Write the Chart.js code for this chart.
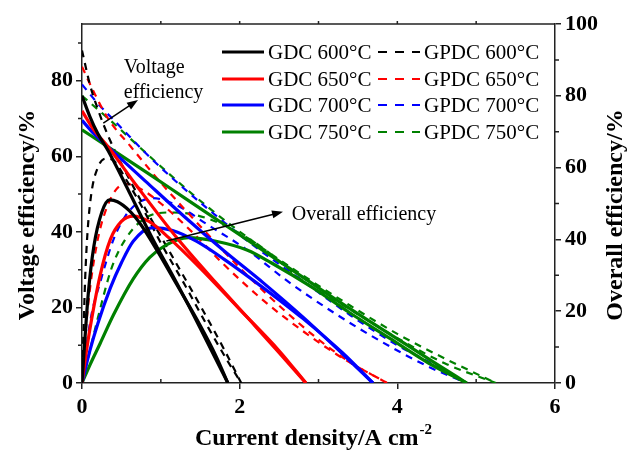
<!DOCTYPE html>
<html>
<head>
<meta charset="utf-8">
<script src="https://cdn.jsdelivr.net/npm/chart.js@4.4.0/dist/chart.umd.min.js"></script>
<style>
  html, body { margin: 0; padding: 0; background: #fff; }
  canvas { display: block; }
</style>
</head>
<body>
<canvas id="chart" width="636" height="451"></canvas>
<script>
// ------------------------------------------------------------
// Efficiency vs current density, GDC / GPDC cells at 600-750 °C
// points are [current density (A cm-2), efficiency (%)]
// ------------------------------------------------------------

// voltage efficiency (left axis)
const gdc600Volt = [[0,76],[0.1,70.5],[0.2,66],[0.33,61.5],[0.6,50.5],[0.9,38],[1.2,26.5],[1.5,14.5],[1.85,0]];
const gdc650Volt = [[0,72],[0.15,67],[0.33,62.5],[0.7,52],[1.2,38.5],[1.7,26.5],[2.2,15],[2.5,8],[2.84,0]];
const gdc700Volt = [[0,69.5],[0.15,66],[0.33,62.5],[0.8,53.5],[1.3,44],[1.8,35],[2.3,26.5],[2.8,17.5],[3.3,7.8],[3.69,0]];
const gdc750Volt = [[0,67],[0.33,62.5],[0.8,56],[1.3,49],[1.8,42],[2.3,35],[2.8,28],[3.3,21],[3.9,13],[4.5,5],[4.88,0]];
const gpdc600Volt = [[0,88],[0.1,79],[0.2,72.5],[0.35,64.5],[0.6,54],[0.9,42.5],[1.2,31.5],[1.5,20.5],[1.8,9],[2.02,0]];
const gpdc650Volt = [[0,83.7],[0.15,77],[0.33,70],[0.62,62.5],[1.0,53],[1.5,41.5],[2.0,30.5],[2.5,20.5],[3.0,11.5],[3.4,5.5],[3.87,0]];
const gpdc700Volt = [[0,79],[0.2,74],[0.5,67.5],[0.8,61],[1.13,54.5],[1.6,46],[2.2,36],[2.8,27],[3.4,18],[4.0,10],[4.5,4.5],[4.88,0]];
const gpdc750Volt = [[0,76],[0.36,69.5],[0.7,63],[1.07,56],[1.6,46.5],[2.2,37],[2.8,28.5],[3.4,20.5],[4.0,13],[4.6,6.5],[5.25,0]];

// overall efficiency (right axis)
const gdc600Eff = [[0,0],[0.03,10],[0.08,25],[0.15,38],[0.25,47.5],[0.35,51],[0.45,50.5],[0.6,48],[0.75,44],[0.95,37],[1.2,27.5],[1.5,16],[1.7,7.5],[1.85,0]];
const gdc650Eff = [[0,0],[0.05,8],[0.1,15],[0.23,30],[0.36,40],[0.5,45],[0.65,46.5],[0.85,45],[1.1,40.5],[1.5,32],[2.0,20.5],[2.5,9],[2.84,0]];
const gdc700Eff = [[0,0],[0.1,9],[0.2,16.5],[0.36,26.5],[0.5,33.5],[0.65,39.5],[0.9,43.3],[1.15,42.5],[1.45,39.5],[1.8,34.5],[2.3,26.5],[2.8,18],[3.3,8.5],[3.69,0]];
const gdc750Eff = [[0,0],[0.1,5],[0.23,11],[0.4,19],[0.65,29],[0.86,35],[1.07,38.5],[1.35,40.5],[1.7,39.5],[2.1,37],[2.4,33.5],[2.93,26.5],[3.4,19.5],[3.9,12.5],[4.4,5.5],[4.88,0]];
const gpdc600Eff = [[0,0],[0.02,15],[0.04,29],[0.07,42],[0.12,53],[0.2,60],[0.3,62.5],[0.4,62],[0.55,57],[0.75,49.5],[1.0,39],[1.3,27.5],[1.6,15.5],[1.85,6],[2.02,0]];
const gpdc650Eff = [[0,0],[0.03,10],[0.1,26],[0.2,40],[0.3,48],[0.42,53.5],[0.55,55.5],[0.75,54],[1.0,50],[1.4,42],[1.8,33],[2.3,23],[2.8,14.5],[3.3,7],[3.87,0]];
const gpdc700Eff = [[0,0],[0.05,9],[0.12,19],[0.23,28],[0.4,40],[0.55,46.5],[0.7,50],[0.9,51.5],[1.2,49.5],[1.6,44],[2.1,37],[2.6,28.5],[3.2,19.5],[3.8,11.5],[4.4,4.5],[4.88,0]];
const gpdc750Eff = [[0,0],[0.1,9],[0.2,18],[0.36,31],[0.46,36.5],[0.65,43],[0.85,46.5],[1.1,47.5],[1.4,47],[1.8,44],[2.3,37.5],[2.8,28.5],[3.4,20.5],[4.0,12.5],[4.6,5.5],[5.25,0]];

const seriesLabels = ['GDC 600°C', 'GDC 650°C', 'GDC 700°C', 'GDC 750°C',
                      'GPDC 600°C', 'GPDC 650°C', 'GPDC 700°C', 'GPDC 750°C'];
const voltSets = [gdc600Volt, gdc650Volt, gdc700Volt, gdc750Volt, gpdc600Volt, gpdc650Volt, gpdc700Volt, gpdc750Volt];
const effSets = [gdc600Eff, gdc650Eff, gdc700Eff, gdc750Eff, gpdc600Eff, gpdc650Eff, gpdc700Eff, gpdc750Eff];

// axis ticks
const xTicks = [0, 2, 4, 6];
const xMinorTicks = [1, 3, 5];
const leftTicks = [0, 20, 40, 60, 80];
const leftMinorTicks = [10, 30, 50, 70, 90];
const rightTicks = [0, 20, 40, 60, 80, 100];
const rightMinorTicks = [10, 30, 50, 70, 90];

// annotation anchors in data units (x, left-axis y)
const voltageNoteAt = [0.53, 82.0, 75.4];
const voltageArrow = [0.27, 68.8, 0.71, 74.9];
const overallNoteAt = [2.66, 43.1];
const overallArrow = [1.07, 37.6, 2.55, 45.3];

const colors = ['#000000', '#ff0000', '#0000ff', '#008000'];
const SERIF = "'Liberation Serif', 'Times New Roman', serif";

function toXY(pts) { return pts.map(p => ({ x: p[0], y: p[1] })); }

const datasets = [];
// solid GDC first so they sit on top
[0, 1, 2, 3, 4, 5, 6, 7].forEach(i => {
  const dashed = i >= 4;
  const color = colors[i % 4];
  const common = {
    borderColor: color,
    backgroundColor: color,
    borderWidth: dashed ? 2.2 : 3.2,
    borderDash: dashed ? [7, 6] : [],
    pointRadius: 0,
    cubicInterpolationMode: 'monotone',
    fill: false,
  };
  datasets.push(Object.assign({ label: seriesLabels[i], data: toXY(voltSets[i]), yAxisID: 'y' }, common));
  datasets.push(Object.assign({ label: seriesLabels[i] + ' overall', data: toXY(effSets[i]), yAxisID: 'y2' }, common));
});

function fixedTicks(values) {
  return scale => { scale.ticks = values.map(v => ({ value: v })); };
}

function drawArrow(ctx, x1, y1, x2, y2) {
  const ang = Math.atan2(y2 - y1, x2 - x1);
  const len = 11, half = 4;
  ctx.beginPath();
  ctx.moveTo(x1, y1);
  ctx.lineTo(x2 - Math.cos(ang) * len * 0.8, y2 - Math.sin(ang) * len * 0.8);
  ctx.stroke();
  ctx.beginPath();
  ctx.moveTo(x2, y2);
  ctx.lineTo(x2 - Math.cos(ang) * len - Math.sin(ang) * half, y2 - Math.sin(ang) * len + Math.cos(ang) * half);
  ctx.lineTo(x2 - Math.cos(ang) * len + Math.sin(ang) * half, y2 - Math.sin(ang) * len - Math.cos(ang) * half);
  ctx.closePath();
  ctx.fill();
}

// frame, minor ticks, legend, notes and axis titles
const decor = {
  id: 'decor',
  afterDraw(chart) {
    const { ctx, chartArea: a, scales } = chart;
    const sx = scales.x, sy = scales.y, sy2 = scales.y2;
    ctx.save();
    ctx.strokeStyle = '#222';
    ctx.fillStyle = '#000';
    ctx.lineWidth = 1.5;

    // top frame
    ctx.beginPath();
    ctx.moveTo(a.left, a.top);
    ctx.lineTo(a.right, a.top);
    ctx.stroke();

    ctx.beginPath();
    // minor x ticks point inward, top ticks small
    xMinorTicks.forEach(v => {
      const px = sx.getPixelForValue(v);
      ctx.moveTo(px, a.bottom); ctx.lineTo(px, a.bottom - 4);
    });
    [1, 2, 3, 4, 5].forEach(v => {
      const px = sx.getPixelForValue(v);
      ctx.moveTo(px, a.top); ctx.lineTo(px, a.top - 3);
    });
    leftMinorTicks.forEach(v => {
      const py = sy.getPixelForValue(v);
      ctx.moveTo(a.left, py); ctx.lineTo(a.left - 4, py);
    });
    rightMinorTicks.forEach(v => {
      const py = sy2.getPixelForValue(v);
      ctx.moveTo(a.right, py); ctx.lineTo(a.right + 4, py);
    });
    ctx.stroke();

    // legend: two columns, solid GDC | dashed GPDC
    const rowY = [52, 79, 105, 132];
    ctx.font = `21px ${SERIF}`;
    ctx.textBaseline = 'middle';
    ctx.textAlign = 'left';
    for (let r = 0; r < 4; r++) {
      const y = rowY[r];
      [[222, 264, 268, r], [378, 420, 424, r + 4]].forEach(([x1, x2, tx, idx]) => {
        const ds = chart.data.datasets[idx * 2];
        ctx.save();
        ctx.strokeStyle = ds.borderColor;
        ctx.lineWidth = ds.borderWidth;
        ctx.setLineDash(idx >= 4 ? [9, 8] : []);
        ctx.beginPath();
        ctx.moveTo(x1, y); ctx.lineTo(x2, y);
        ctx.stroke();
        ctx.restore();
        ctx.fillText(ds.label, tx, y + 1);
      });
    }

    // notes
    ctx.font = `20px ${SERIF}`;
    ctx.textBaseline = 'alphabetic';
    ctx.lineWidth = 1.5;
    ctx.strokeStyle = '#000';
    const vx = sx.getPixelForValue(voltageNoteAt[0]);
    ctx.fillText('Voltage', vx, sy.getPixelForValue(voltageNoteAt[1]));
    ctx.fillText('efficiency', vx, sy.getPixelForValue(voltageNoteAt[2]));
    drawArrow(ctx, sx.getPixelForValue(voltageArrow[0]), sy.getPixelForValue(voltageArrow[1]),
                   sx.getPixelForValue(voltageArrow[2]), sy.getPixelForValue(voltageArrow[3]));
    ctx.fillText('Overall efficiency', sx.getPixelForValue(overallNoteAt[0]), sy.getPixelForValue(overallNoteAt[1]));
    drawArrow(ctx, sx.getPixelForValue(overallArrow[0]), sy.getPixelForValue(overallArrow[1]),
                   sx.getPixelForValue(overallArrow[2]), sy.getPixelForValue(overallArrow[3]));

    // axis titles
    ctx.font = `bold 24px ${SERIF}`;
    ctx.textAlign = 'center';
    ctx.textBaseline = 'middle';
    [[28, 'Voltage efficiency/%'], [616, 'Overall efficiency/%']].forEach(([x, t]) => {
      ctx.save();
      ctx.translate(x, 215);
      ctx.rotate(-Math.PI / 2);
      ctx.fillText(t, 0, 0);
      ctx.restore();
    });

    const main = 'Current density/A cm';
    ctx.textAlign = 'left';
    ctx.textBaseline = 'alphabetic';
    const w1 = ctx.measureText(main).width;
    ctx.font = `bold 15px ${SERIF}`;
    const w2 = ctx.measureText('-2').width;
    const x0 = 313 - (w1 + w2) / 2;
    ctx.font = `bold 24px ${SERIF}`;
    ctx.fillText(main, x0, 445);
    ctx.font = `bold 15px ${SERIF}`;
    ctx.fillText('-2', x0 + w1 + 1, 434);

    ctx.restore();
  }
};

const tickFont = { family: SERIF, size: 22, weight: 'bold' };

new Chart(document.getElementById('chart'), {
  type: 'line',
  data: { datasets },
  options: {
    responsive: false,
    animation: false,
    devicePixelRatio: 1,
    layout: { padding: { top: 24, left: 0, right: 0, bottom: 0 } },
    plugins: { legend: { display: false }, tooltip: { enabled: false } },
    scales: {
      x: {
        type: 'linear', min: 0, max: 6,
        afterBuildTicks: fixedTicks(xTicks),
        afterFit: s => { s.height = 68; },
        grid: { drawOnChartArea: false, drawTicks: true, tickLength: 6, color: '#222', lineWidth: 1.5 },
        border: { display: true, color: '#222', width: 1.5 },
        ticks: { font: tickFont, color: '#000', padding: 5, maxRotation: 0 },
      },
      y: {
        type: 'linear', position: 'left', min: 0, max: 95,
        afterBuildTicks: fixedTicks(leftTicks),
        afterFit: s => { s.width = 82; },
        grid: { drawOnChartArea: false, drawTicks: true, tickLength: 6, color: '#222', lineWidth: 1.5 },
        border: { display: true, color: '#222', width: 1.5 },
        ticks: { font: tickFont, color: '#000', padding: 3 },
      },
      y2: {
        type: 'linear', position: 'right', min: 0, max: 100,
        afterBuildTicks: fixedTicks(rightTicks),
        afterFit: s => { s.width = 81; },
        grid: { drawOnChartArea: false, drawTicks: true, tickLength: 6, color: '#222', lineWidth: 1.5 },
        border: { display: true, color: '#222', width: 1.5 },
        ticks: { font: tickFont, color: '#000', padding: 4 },
      },
    },
  },
  plugins: [decor],
});
</script>
</body>
</html>
